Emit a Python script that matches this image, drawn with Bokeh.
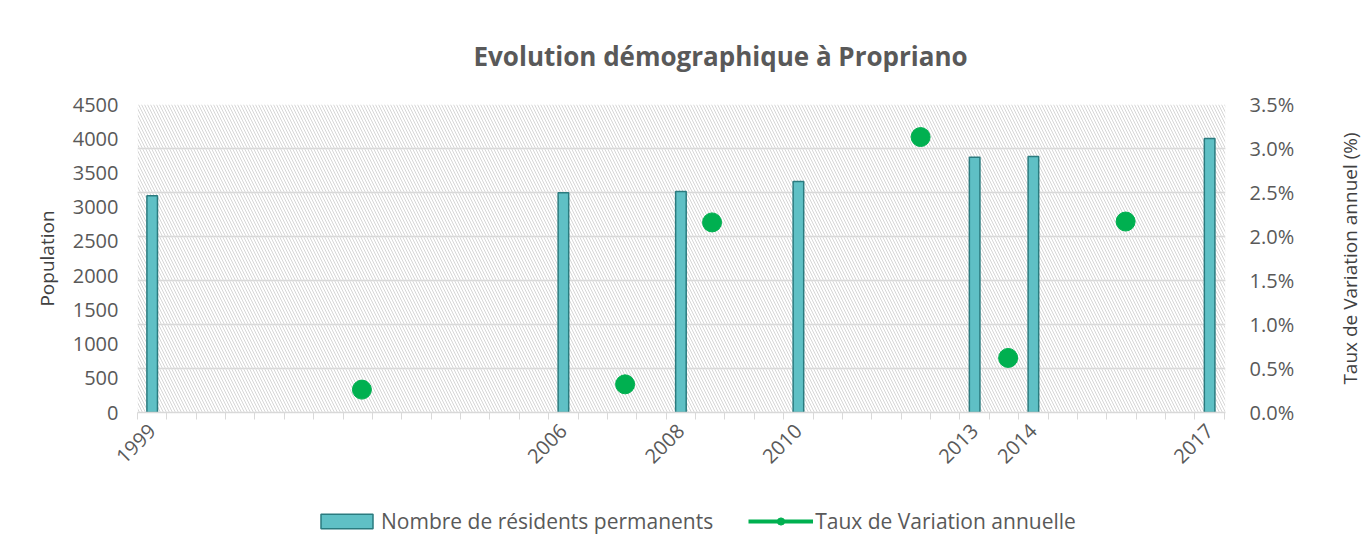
import numpy as np
from math import pi
from bokeh.plotting import figure
from bokeh.layouts import column, row
from bokeh.models import (Range1d, LinearAxis, FixedTicker, NumeralTickFormatter, Grid,
                          BoxAnnotation, Legend, LegendItem, ColumnDataSource, Title)
from bokeh.embed import file_html
from bokeh.resources import INLINE

# ---- data ----
census_years = [1999, 2006, 2008, 2010, 2013, 2014, 2017]
population = [3166, 3210, 3228, 3375, 3728, 3742, 4005]
rate_x = [2002.57, 2007.05, 2008.53, 2012.08, 2013.57, 2015.57]
rate_values = [0.0026, 0.0032, 0.0216, 0.0313, 0.0062, 0.0217]
pop_ticks = [0, 500, 1000, 1500, 2000, 2500, 3000, 3500, 4000, 4500]
pct_ticks = [0.0, 0.005, 0.010, 0.015, 0.020, 0.025, 0.030, 0.035]
title_text = "Evolution démographique à Propriano"
right_title = "Taux de Variation annuel (%)"
bar_label = "Nombre de résidents permanents"
rate_label = "Taux de Variation annuelle"

FONT = "Open Sans"
GREY = "#595959"
DARK = "#404040"
GRID = "#d9d9d9"
BAR_FILL = "#5fc0c5"
BAR_LINE = "#2a7b7f"
GREEN = "#00b050"

bar_src = ColumnDataSource(dict(x=census_years, top=population))
rate_src = ColumnDataSource(dict(x=rate_x, y=rate_values))

# ---------------- main chart ----------------
p = figure(width=1297, height=480, output_backend="svg", toolbar_location=None,
           x_range=Range1d(1998.75, 2017.27), y_range=Range1d(0, 4500),
           min_border_left=137, min_border_right=70, min_border_top=104,
           min_border_bottom=68)
p.outline_line_color = None
p.xgrid.visible = False
p.ygrid.visible = False
p.extra_y_ranges = {"pct": Range1d(0, 0.035)}

# hatched plot area background
p.add_layout(BoxAnnotation(fill_color="white", fill_alpha=1, hatch_pattern="\\",
                           hatch_color="#d6d6d6", hatch_weight=1, hatch_scale=6,
                           line_color=None, level="image"))

# grid follows the percent axis
p.add_layout(Grid(dimension=1, ticker=FixedTicker(ticks=pct_ticks), y_range_name="pct",
                  grid_line_color=GRID, grid_line_width=1.5))

# x axis
xa = p.xaxis[0]
xa.ticker = FixedTicker(ticks=census_years,
                        minor_ticks=list(np.arange(1998.75, 2017.3, 0.5)))
xa.major_label_orientation = pi / 4
xa.major_tick_out = 0
xa.major_tick_in = 0
xa.minor_tick_out = 7
xa.minor_tick_in = 0
xa.minor_tick_line_color = GRID
xa.axis_line_color = GRID
xa.axis_line_width = 1.5
xa.major_label_text_font = FONT
xa.major_label_text_font_size = "20px"
xa.major_label_text_color = GREY
xa.major_label_standoff = 8

# left axis
ya = p.yaxis[0]
ya.ticker = FixedTicker(ticks=pop_ticks)
ya.major_tick_line_color = None
ya.minor_tick_line_color = None
ya.axis_line_color = None
ya.major_label_standoff = 13
ya.major_label_text_font = FONT
ya.major_label_text_font_size = "20px"
ya.major_label_text_color = GREY
ya.axis_label = "Population"
ya.axis_label_text_font = FONT
ya.axis_label_text_font_size = "19px"
ya.axis_label_text_font_style = "normal"
ya.axis_label_text_color = DARK
ya.axis_label_standoff = 10

# right axis (percent)
ra = LinearAxis(y_range_name="pct", ticker=FixedTicker(ticks=pct_ticks),
                formatter=NumeralTickFormatter(format="0.0%"))
ra.major_tick_line_color = None
ra.minor_tick_line_color = None
ra.axis_line_color = None
ra.major_label_standoff = 18
ra.major_label_text_font = FONT
ra.major_label_text_font_size = "20px"
ra.major_label_text_color = GREY
p.add_layout(ra, "right")

# title
p.add_layout(Title(text=title_text, align="left",
                   text_font=FONT, text_font_size="26px", text_font_style="bold",
                   text_color=GREY, offset=336, standoff=61), "above")

# glyphs
p.vbar(x="x", top="top", width=0.18, source=bar_src, fill_color=BAR_FILL,
       line_color=BAR_LINE, line_width=1.5)
p.scatter(x="x", y="y", source=rate_src, y_range_name="pct", size=19,
          fill_color=GREEN, line_color=GREEN)

# ---------------- right-hand axis title (reads bottom-to-top) ----------------
tf = figure(width=73, height=480, output_backend="svg", toolbar_location=None,
            x_axis_location=None, y_axis_location=None,
            min_border_left=70, min_border_right=0, min_border_top=104,
            min_border_bottom=68)
tf.outline_line_color = None
tf.grid.visible = False
tf.add_layout(Title(text=right_title, align="center", text_font=FONT,
                    text_font_size="19px", text_font_style="normal",
                    text_color=DARK, standoff=10), "left")

# ---------------- legend strip ----------------
lf = figure(width=1370, height=70, output_backend="svg", toolbar_location=None,
            x_range=Range1d(0, 1), y_range=Range1d(0, 1),
            x_axis_location=None, y_axis_location=None,
            min_border_left=0, min_border_right=0, min_border_top=0, min_border_bottom=0)
lf.outline_line_color = None
lf.grid.visible = False
lb = lf.vbar(x="x", top="top", width=0.18, source=bar_src, fill_color=BAR_FILL,
             line_color=BAR_LINE, line_width=1.5, visible=False)
ll = lf.line(x="x", y="y", source=rate_src, line_color=GREEN, line_width=4, visible=False)
ls = lf.scatter(x="x", y="y", source=rate_src, size=19, fill_color=GREEN,
                line_color=GREEN, visible=False)
legend = Legend(items=[LegendItem(label=bar_label, renderers=[lb]),
                       LegendItem(label=rate_label, renderers=[ll, ls])],
                location=(314, 15), orientation="horizontal",
                glyph_width=65, glyph_height=18, label_standoff=2, spacing=35,
                padding=0, margin=0, border_line_color=None, background_fill_alpha=0,
                label_text_font=FONT, label_text_font_size="21px", label_text_color=GREY,
                inactive_fill_alpha=0)
lf.add_layout(legend)

layout = column(row(p, tf), lf)
open("out.html", "w").write(file_html(layout, INLINE))
